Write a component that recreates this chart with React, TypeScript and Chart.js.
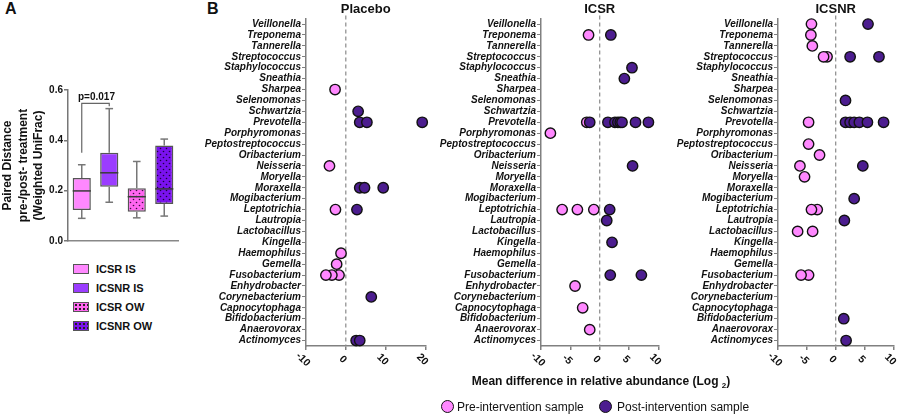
import React, { useEffect, useRef } from "react";
import { Chart, registerables } from "chart.js";
Chart.register(...registerables);

const FONT = "'Liberation Sans', Arial, Helvetica, sans-serif";

// ---------- Panel A: box plot data ----------
const boxGroups = ["ICSR IS", "ICSNR IS", "ICSR OW", "ICSNR OW"];
const boxMin = [0.09, 0.154, 0.092, 0.099];
const boxQ1 = [0.123, 0.216, 0.116, 0.147];
const boxMedian = [0.199, 0.271, 0.176, 0.207];
const boxQ3 = [0.25, 0.351, 0.21, 0.379];
const boxMax = [0.303, 0.526, 0.316, 0.405];
const boxColors = ["#FF88FF", "#9B3DFF", "#FF66F0", "#7A12EE"];
const boxDotted = [false, false, true, true];
const yTicksA = [0, 0.2, 0.4, 0.6];
const pValueLabel = "p=0.017";
const pBracketLevel = 0.547;
const pBracketLeftEnd = 0.351;
const pBracketRightEnd = 0.535;

// ---------- Panel B: genera and differences ----------
const genera = [
  "Veillonella", "Treponema", "Tannerella", "Streptococcus", "Staphylococcus",
  "Sneathia", "Sharpea", "Selenomonas", "Schwartzia", "Prevotella",
  "Porphyromonas", "Peptostreptococcus", "Oribacterium", "Neisseria", "Moryella",
  "Moraxella", "Mogibacterium", "Leptotrichia", "Lautropia", "Lactobacillus",
  "Kingella", "Haemophilus", "Gemella", "Fusobacterium", "Enhydrobacter",
  "Corynebacterium", "Capnocytophaga", "Bifidobacterium", "Anaerovorax", "Actinomyces",
];

const placeboPre: [string, number][] = [
  ["Sharpea", -2.7], ["Neisseria", -4.1], ["Leptotrichia", -2.6], ["Haemophilus", -1.2],
  ["Gemella", -2.3], ["Fusobacterium", -1.7], ["Fusobacterium", -3.5], ["Fusobacterium", -5.0],
];
const placeboPost: [string, number][] = [
  ["Schwartzia", 3.1], ["Prevotella", 3.5], ["Prevotella", 5.3], ["Prevotella", 19.2],
  ["Moraxella", 3.5], ["Moraxella", 4.7], ["Moraxella", 9.4], ["Leptotrichia", 2.8],
  ["Corynebacterium", 6.4], ["Actinomyces", 2.6], ["Actinomyces", 3.5],
];
const icsrPre: [string, number][] = [
  ["Treponema", -1.9], ["Prevotella", -2.2], ["Porphyromonas", -8.4],
  ["Leptotrichia", -1.0], ["Leptotrichia", -3.8], ["Leptotrichia", -6.4],
  ["Enhydrobacter", -4.2], ["Capnocytophaga", -2.9], ["Anaerovorax", -1.7],
];
const icsrPost: [string, number][] = [
  ["Treponema", 1.9], ["Staphylococcus", 5.5], ["Sneathia", 4.2],
  ["Prevotella", -1.7], ["Prevotella", 1.4], ["Prevotella", 2.6], ["Prevotella", 3.1],
  ["Prevotella", 3.5], ["Prevotella", 3.8], ["Prevotella", 6.1], ["Prevotella", 8.3],
  ["Neisseria", 5.6], ["Leptotrichia", 1.7], ["Lautropia", 1.2], ["Kingella", 2.1],
  ["Fusobacterium", 1.8], ["Fusobacterium", 7.1],
];
const icsnrPre: [string, number][] = [
  ["Veillonella", -4.2], ["Treponema", -4.3], ["Tannerella", -4.05],
  ["Streptococcus", -1.5], ["Streptococcus", -2.1], ["Prevotella", -4.7],
  ["Peptostreptococcus", -4.7], ["Oribacterium", -2.8], ["Neisseria", -6.2],
  ["Moryella", -5.4], ["Leptotrichia", -3.2], ["Leptotrichia", -4.2],
  ["Lactobacillus", -4.0], ["Lactobacillus", -6.6], ["Fusobacterium", -4.7], ["Fusobacterium", -6.0],
];
const icsnrPost: [string, number][] = [
  ["Veillonella", 5.6], ["Streptococcus", 2.5], ["Streptococcus", 7.5], ["Selenomonas", 1.7],
  ["Prevotella", 1.7], ["Prevotella", 2.5], ["Prevotella", 3.2], ["Prevotella", 4.1],
  ["Prevotella", 5.5], ["Prevotella", 8.3], ["Neisseria", 4.7], ["Mogibacterium", 3.2],
  ["Lautropia", 1.5], ["Bifidobacterium", 1.4], ["Actinomyces", 1.8],
];

const PRE_COLOR = "#FF88FF";
const POST_COLOR = "#4C1D8F";
const AXIS_COLOR = "#808080";

function makeDots(bg: string, dot: string) {
  const c = document.createElement("canvas");
  c.width = 6;
  c.height = 6;
  const g = c.getContext("2d")!;
  g.fillStyle = bg;
  g.fillRect(0, 0, 6, 6);
  g.fillStyle = dot;
  g.beginPath();
  g.arc(1.5, 1.5, 0.8, 0, Math.PI * 2);
  g.fill();
  g.beginPath();
  g.arc(4.5, 4.5, 0.8, 0, Math.PI * 2);
  g.fill();
  return g.createPattern(c, "repeat")!;
}

const boxWhiskerPlugin = {
  id: "boxWhiskers",
  afterDatasetsDraw(chart: any) {
    const meta = chart.getDatasetMeta(0);
    const ys = chart.scales.y;
    const ctx = chart.ctx as CanvasRenderingContext2D;
    const line = (x1: number, y1: number, x2: number, y2: number) => {
      ctx.beginPath();
      ctx.moveTo(x1, y1);
      ctx.lineTo(x2, y2);
      ctx.stroke();
    };
    ctx.save();
    meta.data.forEach((bar: any, i: number) => {
      const { x, width } = bar.getProps(["x", "width"], true);
      const cap = width * 0.42;
      const yMax = ys.getPixelForValue(boxMax[i]);
      const yMin = ys.getPixelForValue(boxMin[i]);
      ctx.strokeStyle = "#777";
      ctx.lineWidth = 1.5;
      line(x, ys.getPixelForValue(boxQ3[i]), x, yMax);
      line(x - cap / 2, yMax, x + cap / 2, yMax);
      line(x, ys.getPixelForValue(boxQ1[i]), x, yMin);
      line(x - cap / 2, yMin, x + cap / 2, yMin);
      ctx.strokeStyle = "#3a3a3a";
      const yMed = ys.getPixelForValue(boxMedian[i]);
      line(x - width / 2, yMed, x + width / 2, yMed);
    });
    // significance bracket
    const b0 = meta.data[0].getProps(["x"], true).x;
    const b1 = meta.data[1].getProps(["x"], true).x;
    const yl = ys.getPixelForValue(pBracketLevel);
    ctx.strokeStyle = "#666";
    ctx.lineWidth = 1.2;
    ctx.beginPath();
    ctx.moveTo(b0, ys.getPixelForValue(pBracketLeftEnd));
    ctx.lineTo(b0, yl);
    ctx.lineTo(b1, yl);
    ctx.lineTo(b1, ys.getPixelForValue(pBracketRightEnd));
    ctx.stroke();
    ctx.fillStyle = "#111";
    ctx.font = `bold 10px ${FONT}`;
    ctx.textAlign = "center";
    ctx.textBaseline = "bottom";
    ctx.fillText(pValueLabel, (b0 + b1) / 2 + 1, yl - 1.5);
    ctx.restore();
  },
};

const zeroLinePlugin = {
  id: "zeroLine",
  beforeDatasetsDraw(chart: any) {
    const s = chart.scales.x;
    const ctx = chart.ctx as CanvasRenderingContext2D;
    const x = s.getPixelForValue(0);
    ctx.save();
    ctx.strokeStyle = "#8a8a8a";
    ctx.lineWidth = 1.2;
    ctx.setLineDash([4, 3]);
    ctx.beginPath();
    ctx.moveTo(x, chart.chartArea.top - 3);
    ctx.lineTo(x, chart.chartArea.bottom);
    ctx.stroke();
    ctx.restore();
  },
};

const rotatedTicksPlugin = {
  id: "rotatedTicks",
  afterDraw(chart: any) {
    const s = chart.scales.x;
    const ctx = chart.ctx as CanvasRenderingContext2D;
    ctx.save();
    ctx.font = `bold 10.5px ${FONT}`;
    ctx.fillStyle = "#111";
    ctx.textAlign = "center";
    ctx.textBaseline = "middle";
    s.ticks.forEach((t: any) => {
      const x = s.getPixelForValue(t.value);
      ctx.save();
      ctx.translate(x - 3, s.top + 13.5);
      ctx.rotate(Math.PI / 4);
      ctx.fillText(String(t.value), 0, 0);
      ctx.restore();
    });
    ctx.restore();
  },
};

function makeBoxChart(canvas: HTMLCanvasElement) {
  const fills = boxColors.map((c, i) =>
    boxDotted[i] ? makeDots(c, i === 3 ? "#1e0040" : "#3a1040") : c
  );
  return new Chart(canvas, {
    type: "bar",
    data: {
      labels: boxGroups,
      datasets: [
        {
          data: boxGroups.map((_, i) => [boxQ1[i], boxQ3[i]]) as any,
          backgroundColor: fills as any,
          borderColor: "#555",
          borderWidth: 1.5,
          borderSkipped: false,
          barPercentage: 0.66,
          categoryPercentage: 1,
        },
      ],
    },
    options: {
      animation: false,
      responsive: false,
      events: [],
      layout: { padding: { top: 90, right: 22, left: 0, bottom: 0 } },
      plugins: { legend: { display: false }, tooltip: { enabled: false }, title: { display: false } },
      scales: {
        x: {
          ticks: { display: false },
          grid: { display: false },
          border: { display: true, color: "#888", width: 1.5, dash: [3, 2] },
          afterFit: (s: any) => { s.height = 9; },
        },
        y: {
          min: 0,
          max: 0.6,
          afterBuildTicks: (s: any) => { s.ticks = yTicksA.map((v) => ({ value: v })); },
          ticks: {
            callback: (v: any) => Number(v).toFixed(1),
            font: { family: FONT, size: 10, weight: "bold" },
            color: "#111",
            padding: 1,
          },
          grid: { drawOnChartArea: false, drawTicks: true, tickLength: 4, color: "#777", lineWidth: 1.5 },
          border: { display: true, color: "#777", width: 1.5 },
          title: {
            display: true,
            text: ["Paired Distance", "pre-/post- treatment", "(Weighted UniFrac)"],
            font: { family: FONT, size: 12, weight: "bold", lineHeight: 1.3 },
            color: "#111",
            padding: 0,
          },
          afterFit: (s: any) => { s.width = 68; },
        },
      },
    } as any,
    plugins: [boxWhiskerPlugin],
  });
}

function toPoints(list: [string, number][]) {
  return list.map(([g, v]) => ({ x: v, y: g }));
}

function makePanel(
  canvas: HTMLCanvasElement,
  title: string,
  pre: [string, number][],
  post: [string, number][],
  xMin: number,
  xMax: number,
  xStep: number,
  padRight: number
) {
  const pointStyle = {
    borderColor: "#111",
    borderWidth: 1.4,
    pointRadius: 5.2,
    pointHoverRadius: 5.2,
    showLine: false,
    clip: false,
  };
  return new Chart(canvas, {
    type: "scatter",
    data: {
      datasets: [
        { label: "Post-intervention sample", data: toPoints(post) as any, backgroundColor: POST_COLOR, ...pointStyle },
        { label: "Pre-intervention sample", data: toPoints(pre) as any, backgroundColor: PRE_COLOR, ...pointStyle },
      ],
    },
    options: {
      animation: false,
      responsive: false,
      events: [],
      layout: { padding: { left: 0, right: padRight, top: 0, bottom: 0 } },
      plugins: {
        legend: { display: false },
        tooltip: { enabled: false },
        title: {
          display: true,
          text: title,
          fullSize: false,
          color: "#111",
          font: { family: FONT, size: 13, weight: "bold" },
          padding: { top: 2, bottom: 1 },
        },
      },
      scales: {
        x: {
          type: "linear",
          min: xMin,
          max: xMax,
          ticks: { stepSize: xStep, display: false },
          grid: { drawOnChartArea: false, drawTicks: true, tickLength: 4, color: AXIS_COLOR, lineWidth: 1.5 },
          border: { display: true, color: AXIS_COLOR, width: 1.5 },
          afterFit: (s: any) => { s.height = 29; },
        },
        y: {
          type: "category",
          labels: genera,
          offset: true,
          ticks: {
            autoSkip: false,
            color: "#111",
            padding: 1,
            font: { family: FONT, size: 10, style: "italic", weight: "bold" },
          },
          grid: { drawOnChartArea: false, drawTicks: true, tickLength: 4, color: AXIS_COLOR, offset: false, lineWidth: 1 },
          border: { display: true, color: AXIS_COLOR, width: 1.5 },
          afterFit: (s: any) => { s.width = 106; },
        },
      },
    } as any,
    plugins: [zeroLinePlugin, rotatedTicksPlugin],
  });
}

const abs = (left: number, top: number, extra: any = {}) => ({ position: "absolute" as const, left, top, ...extra });

export default function App() {
  const aRef = useRef<HTMLCanvasElement>(null);
  const p1Ref = useRef<HTMLCanvasElement>(null);
  const p2Ref = useRef<HTMLCanvasElement>(null);
  const p3Ref = useRef<HTMLCanvasElement>(null);

  useEffect(() => {
    document.body.style.margin = "0";
    const charts = [
      makeBoxChart(aRef.current!),
      makePanel(p1Ref.current!, "Placebo", placeboPre, placeboPost, -10, 20, 10, 5),
      makePanel(p2Ref.current!, "ICSR", icsrPre, icsrPost, -10, 10, 5, 5),
      makePanel(p3Ref.current!, "ICSNR", icsnrPre, icsnrPost, -10, 10, 5, 2),
    ];
    return () => charts.forEach((c) => c.destroy());
  }, []);

  const legendA = boxGroups.map((g, i) => (
    <div key={g} style={abs(73, 263 + i * 19.2, { display: "flex", alignItems: "center", height: 11 })}>
      <div
        style={{
          width: 14,
          height: 8,
          border: "1.5px solid #555",
          backgroundColor: boxColors[i],
          backgroundImage: boxDotted[i] ? "radial-gradient(circle, #222 0.8px, transparent 1.2px)" : undefined,
          backgroundSize: boxDotted[i] ? "4px 4px" : undefined,
        }}
      />
      <span style={{ marginLeft: 7, font: `bold 11px ${FONT}`, color: "#111", whiteSpace: "nowrap" }}>{g}</span>
    </div>
  ));

  return (
    <div style={{ position: "relative", width: 900, height: 415, overflow: "hidden", background: "#fff", fontFamily: FONT }}>
      <div style={abs(5, 1, { font: `bold 16px ${FONT}`, lineHeight: "16px", color: "#111" })}>A</div>
      <div style={abs(207, 1, { font: `bold 16px ${FONT}`, lineHeight: "16px", color: "#111" })}>B</div>
      <canvas ref={aRef} width={200} height={250} style={abs(0, 0, { display: "block" })} />
      {legendA}
      <canvas ref={p1Ref} width={232} height={375} style={abs(200, 0, { display: "block" })} />
      <canvas ref={p2Ref} width={230} height={375} style={abs(435, 0, { display: "block" })} />
      <canvas ref={p3Ref} width={228} height={375} style={abs(672, 0, { display: "block" })} />
      <div style={abs(401, 373, { width: 400, textAlign: "center", font: `bold 12px ${FONT}`, lineHeight: "16px", color: "#111", whiteSpace: "nowrap" })}>
        Mean difference in relative abundance (Log <sub style={{ fontSize: 8, lineHeight: 0, verticalAlign: "-3px" }}>2</sub>)
      </div>
      <div style={abs(441, 400, { width: 13, height: 13, boxSizing: "border-box", borderRadius: "50%", border: "1.5px solid #111", background: PRE_COLOR })} />
      <div style={abs(457, 399, { font: `12px ${FONT}`, lineHeight: "16px", color: "#111", whiteSpace: "nowrap" })}>Pre-intervention sample</div>
      <div style={abs(599, 400, { width: 13, height: 13, boxSizing: "border-box", borderRadius: "50%", border: "1.5px solid #111", background: POST_COLOR })} />
      <div style={abs(617, 399, { font: `12px ${FONT}`, lineHeight: "16px", color: "#111", whiteSpace: "nowrap" })}>Post-intervention sample</div>
    </div>
  );
}
